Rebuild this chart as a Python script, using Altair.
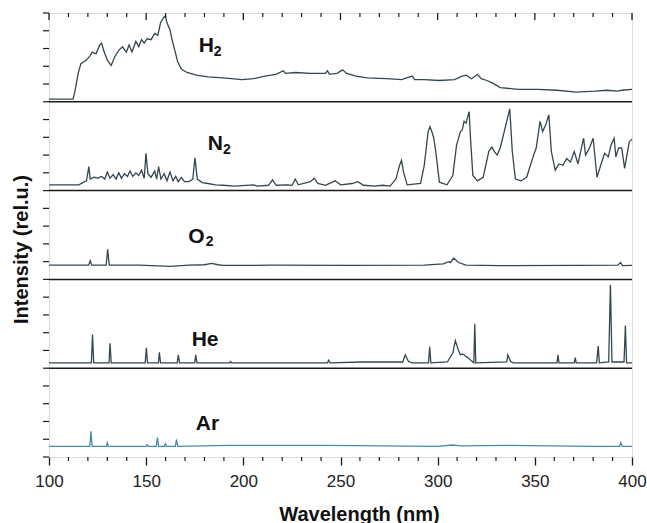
import altair as alt
import pandas as pd

# ---- spectra: wavelength (nm) and relative intensity (fraction of panel height) ----
h2_wl = [100, 112.4, 113.4, 115.0, 116.4, 119.3, 121.2, 122.2, 124.2, 126.1, 127.1, 128.1,
         130.0, 132.0, 133.9, 135.9, 137.8, 139.8, 141.2, 142.7, 144.7, 146.2, 147.6, 149.0,
         150.5, 152.5, 154.4, 156.0, 157.4, 158.7, 159.9, 160.7, 162.3, 163.2, 165.2, 166.2,
         168.1, 171.0, 175.9, 181.8, 189.6, 199.4, 205.2, 211.1, 216.9, 220.5, 221.8, 226.7,
         234.5, 242.3, 243.3, 244.3, 248.2, 251.1, 253.1, 258.0, 263.8, 273.6, 281.4, 286.9,
         288.2, 293.1, 300.9, 308.7, 312.6, 314.6, 317.5, 320.5, 322.4, 325.3, 328.3, 332.2,
         341.9, 351.7, 361.5, 371.2, 381.0, 386.9, 392.7, 394.7, 400]
h2_int = [0.03, 0.03, 0.125, 0.32, 0.43, 0.47, 0.52, 0.56, 0.54, 0.64, 0.66, 0.58,
          0.47, 0.41, 0.51, 0.58, 0.62, 0.56, 0.64, 0.56, 0.68, 0.62, 0.70, 0.66,
          0.71, 0.70, 0.77, 0.75, 0.89, 0.94, 0.97, 0.89, 0.81, 0.71, 0.54, 0.45,
          0.37, 0.33, 0.30, 0.28, 0.27, 0.25, 0.26, 0.29, 0.31, 0.35, 0.32, 0.33,
          0.32, 0.32, 0.35, 0.31, 0.32, 0.36, 0.32, 0.29, 0.27, 0.26, 0.25, 0.29,
          0.25, 0.25, 0.24, 0.25, 0.29, 0.30, 0.26, 0.31, 0.26, 0.24, 0.21, 0.16,
          0.14, 0.14, 0.13, 0.11, 0.12, 0.13, 0.12, 0.13, 0.14]

n2_wl = [100, 115.4, 117.3, 119.3, 120.5, 121.2, 123.2, 125.1, 127.1, 128.7, 130.0, 131.4,
         133.0, 134.5, 135.9, 137.3, 138.8, 140.4, 141.7, 143.1, 144.7, 146.2, 147.6, 149.0,
         149.9, 150.9, 152.5, 154.4, 155.4, 156.4, 157.6, 159.3, 160.7, 162.3, 163.8, 165.2,
         166.5, 168.1, 169.7, 172.0, 174.0, 175.1, 176.3, 178.9, 181.8, 185.7, 189.6, 195.5,
         205.2, 207.2, 213.0, 215.0, 216.9, 222.8, 225.1, 226.7, 228.3, 234.5, 236.5, 238.4,
         242.3, 247.2, 250.1, 256.0, 258.9, 261.9, 267.7, 271.6, 275.5, 278.5, 280.4, 281.4,
         282.4, 284.3, 291.2, 293.1, 295.1, 296.0, 297.0, 298.0, 299.0, 300.9, 304.8, 307.8,
         309.7, 311.7, 312.6, 313.6, 314.6, 316.2, 316.9, 318.1, 320.5, 323.4, 326.3, 327.9,
         329.2, 330.6, 332.2, 335.1, 337.1, 338.4, 340.0, 342.9, 345.8, 348.8, 350.7, 352.7,
         354.0, 355.6, 357.2, 358.5, 360.5, 362.4, 364.4, 366.4, 368.3, 370.3, 372.2, 375.1,
         376.1, 378.1, 380.0, 382.0, 383.9, 385.9, 387.8, 389.2, 390.8, 391.7, 393.1, 394.7,
         396.2, 398.6, 400]
n2_int = [0.065, 0.065, 0.09, 0.11, 0.27, 0.13, 0.15, 0.14, 0.16, 0.13, 0.21, 0.14,
          0.18, 0.13, 0.20, 0.14, 0.19, 0.16, 0.22, 0.16, 0.20, 0.17, 0.23, 0.14,
          0.42, 0.19, 0.15, 0.22, 0.13, 0.27, 0.13, 0.19, 0.11, 0.21, 0.11, 0.16,
          0.10, 0.15, 0.10, 0.10, 0.13, 0.37, 0.13, 0.09, 0.08, 0.065, 0.06, 0.05,
          0.065, 0.05, 0.06, 0.12, 0.06, 0.065, 0.06, 0.13, 0.065, 0.10, 0.14, 0.08,
          0.06, 0.11, 0.065, 0.08, 0.10, 0.06, 0.05, 0.06, 0.05, 0.13, 0.285, 0.34,
          0.21, 0.065, 0.08, 0.285, 0.665, 0.72, 0.665, 0.59, 0.44, 0.095, 0.065, 0.17,
          0.51, 0.665, 0.68, 0.78, 0.76, 0.89, 0.59, 0.17, 0.11, 0.15, 0.44, 0.49,
          0.44, 0.40, 0.48, 0.74, 0.92, 0.44, 0.13, 0.11, 0.15, 0.36, 0.48, 0.78,
          0.665, 0.74, 0.855, 0.44, 0.23, 0.30, 0.285, 0.36, 0.32, 0.44, 0.30, 0.59,
          0.40, 0.48, 0.59, 0.15, 0.285, 0.42, 0.38, 0.51, 0.59, 0.38, 0.48, 0.48,
          0.25, 0.55, 0.58]

o2_wl = [100, 120.4, 121.2, 122.0, 129.4, 130.2, 131.0, 146.6, 162.3, 172.0, 180.0, 183.7,
         187.0, 189.6, 215.0, 254.0, 293.1, 302.9, 305.8, 306.6, 307.2, 308.3, 310.7, 314.6,
         332.2, 371.2, 392.7, 394.1, 395.1, 400]
o2_int = [0.16, 0.16, 0.21, 0.16, 0.16, 0.34, 0.16, 0.16, 0.147, 0.16, 0.165, 0.18,
          0.165, 0.157, 0.16, 0.157, 0.16, 0.175, 0.20, 0.19, 0.21, 0.24, 0.19, 0.16,
          0.155, 0.157, 0.16, 0.19, 0.155, 0.157]

he_wl = [100, 121.8, 122.4, 123.0, 130.9, 131.4, 132.0, 149.5, 150.1, 150.7, 156.3, 156.8,
         157.4, 166.0, 166.5, 167.2, 175.0, 175.5, 176.1, 193.0, 193.5, 194.0, 243.3, 243.9,
         244.6, 260.9, 282.0, 283.3, 285.0, 287.0, 295.3, 295.9, 296.5, 305.0, 307.8, 309.1,
         310.7, 311.7, 312.6, 313.6, 314.6, 315.6, 317.5, 318.6, 319.1, 319.6, 335.5, 336.1,
         337.5, 339.0, 344.9, 361.4, 361.9, 362.4, 370.3, 370.8, 371.3, 381.8, 382.6, 383.2,
         388.0, 388.9, 389.7, 395.9, 396.6, 397.2, 400]
he_int = [0.06, 0.06, 0.38, 0.06, 0.06, 0.28, 0.06, 0.06, 0.23, 0.06, 0.06, 0.18,
          0.06, 0.06, 0.15, 0.06, 0.06, 0.15, 0.06, 0.06, 0.075, 0.06, 0.06, 0.09,
          0.06, 0.07, 0.07, 0.15, 0.075, 0.06, 0.06, 0.24, 0.06, 0.07, 0.17, 0.31,
          0.20, 0.15, 0.16, 0.15, 0.13, 0.12, 0.08, 0.06, 0.50, 0.06, 0.07, 0.15,
          0.075, 0.06, 0.06, 0.06, 0.15, 0.06, 0.06, 0.12, 0.06, 0.06, 0.25, 0.06,
          0.07, 0.94, 0.07, 0.07, 0.48, 0.06, 0.06]

ar_wl = [100, 121.0, 121.6, 122.2, 129.5, 130.0, 130.5, 149.9, 150.5, 151.1, 155.2, 155.8,
         156.4, 159.4, 159.9, 160.4, 165.0, 165.6, 166.2, 192.5, 242.3, 300.0, 307.8, 312.0,
         336.1, 380.0, 393.6, 394.3, 394.9, 400]
ar_int = [0.12, 0.12, 0.29, 0.12, 0.12, 0.16, 0.12, 0.12, 0.14, 0.12, 0.12, 0.22,
          0.12, 0.12, 0.15, 0.12, 0.12, 0.20, 0.12, 0.13, 0.13, 0.12, 0.135, 0.125,
          0.13, 0.12, 0.12, 0.16, 0.12, 0.12]

# panels from bottom to top
gases = ["Ar", "He", "O2", "N2", "H2"]
series = {"Ar": (ar_wl, ar_int), "He": (he_wl, he_int), "O2": (o2_wl, o2_int),
          "N2": (n2_wl, n2_int), "H2": (h2_wl, h2_int)}
line_colors = ["#4a8ba6", "#34474f", "#34474f", "#34474f", "#34474f"]

# panel labels: main text, subscript, anchor wavelength and level within the panel
label_main = ["Ar", "He", "O", "N", "H"]
label_wl = [175.5, 173.4, 171.6, 181.7, 177.0]
label_lvl = [0.304, 0.254, 0.41, 0.453, 0.562]
sub_text = ["2", "2", "2"]
sub_panel = [2, 3, 4]
sub_wl = [180.6, 189.6, 184.8]
sub_lvl = [0.375, 0.416, 0.517]

major_ticks = [100, 150, 200, 250, 300, 350, 400]
minor_ticks = [w for w in range(100, 401, 10) if w % 50 != 0]
y_ticks = [round(i * 0.2, 1) for i in range(26)]

rows = []
for i, g in enumerate(gases):
    wl, inten = series[g]
    for w, v in zip(wl, inten):
        rows.append({"wl": w, "y": i + v, "gas": g})
spec = pd.DataFrame(rows)

labels = pd.DataFrame({"wl": label_wl, "y": [i + v for i, v in enumerate(label_lvl)],
                       "text": label_main})
subs = pd.DataFrame({"wl": sub_wl, "y": [p + v for p, v in zip(sub_panel, sub_lvl)],
                     "text": sub_text})
seps = pd.DataFrame({"y": [1, 2, 3, 4]})
minor_df = pd.DataFrame({"wl": minor_ticks})
major_df = pd.DataFrame({"wl": major_ticks})
ytick_df = pd.DataFrame({"y": y_ticks})

FONT = "Liberation Sans"
INK = "#1a1a1a"
W, H = 583, 444

xs = alt.Scale(domain=[100, 400], nice=False, zero=False)
ys = alt.Scale(domain=[0, 5], nice=False, zero=False)

x_axis = alt.Axis(orient="bottom", values=major_ticks, tickSize=8, tickWidth=1.3,
                  tickColor=INK, domain=False, grid=False, labelFont=FONT,
                  labelFontSize=17, labelColor="#222222", labelPadding=8,
                  labelFlush=False, title="Wavelength (nm)", titleFont=FONT,
                  titleFontSize=20, titleFontWeight="bold", titleColor="#111111",
                  titleBaseline="alphabetic", titleX=310, titleY=63)
y_axis = alt.Axis(orient="left", values=y_ticks, ticks=False, domain=False, grid=False,
                  labels=False, title="Intensity (rel.u.)", titleFont=FONT,
                  titleFontSize=20, titleFontWeight="bold", titleColor="#111111",
                  titleBaseline="alphabetic", titleAngle=270, titleX=-22, titleY=236)

X = alt.X("wl:Q", scale=xs, axis=x_axis)
Y = alt.Y("y:Q", scale=ys, axis=y_axis)

lines = alt.Chart(spec).mark_line(strokeWidth=1.3).encode(
    x=X, y=Y,
    color=alt.Color("gas:N", scale=alt.Scale(domain=gases, range=line_colors), legend=None),
)

rules = alt.Chart(seps).mark_rule(color=INK, strokeWidth=1.5).encode(y=Y)

# inward ticks along the top edge, outward minor ticks along the bottom edge
top_major = alt.Chart(major_df).mark_rule(color=INK, strokeWidth=1.3).encode(
    x=X, y=alt.value(0), y2=alt.value(7))
top_minor = alt.Chart(minor_df).mark_rule(color=INK, strokeWidth=1.2).encode(
    x=X, y=alt.value(0), y2=alt.value(4))
bottom_minor = alt.Chart(minor_df).mark_rule(color=INK, strokeWidth=1.2).encode(
    x=X, y=alt.value(H), y2=alt.value(H + 4))
left_ticks = alt.Chart(ytick_df).mark_rule(color=INK, strokeWidth=1.2).encode(
    y=Y, x=alt.value(-6), x2=alt.value(0))

main_text = alt.Chart(labels).mark_text(
    font=FONT, fontSize=21, fontWeight="bold", align="left", baseline="alphabetic",
    color="#111111"
).encode(x=X, y=Y, text="text:N")

sub_marks = alt.Chart(subs).mark_text(
    font=FONT, fontSize=14, fontWeight="bold", align="left", baseline="alphabetic",
    color="#111111"
).encode(x=X, y=Y, text="text:N")

chart = alt.layer(
    lines, rules, top_major, top_minor, bottom_minor, left_ticks, main_text, sub_marks
).properties(
    width=W, height=H,
    autosize=alt.AutoSizeParams(type="none"),
    padding={"left": 49, "top": 13, "right": 15, "bottom": 66},
).configure_view(
    stroke=INK, strokeWidth=1.5
).configure(background="white")

chart.save("out.html", embed_options={"renderer": "svg", "actions": False})
